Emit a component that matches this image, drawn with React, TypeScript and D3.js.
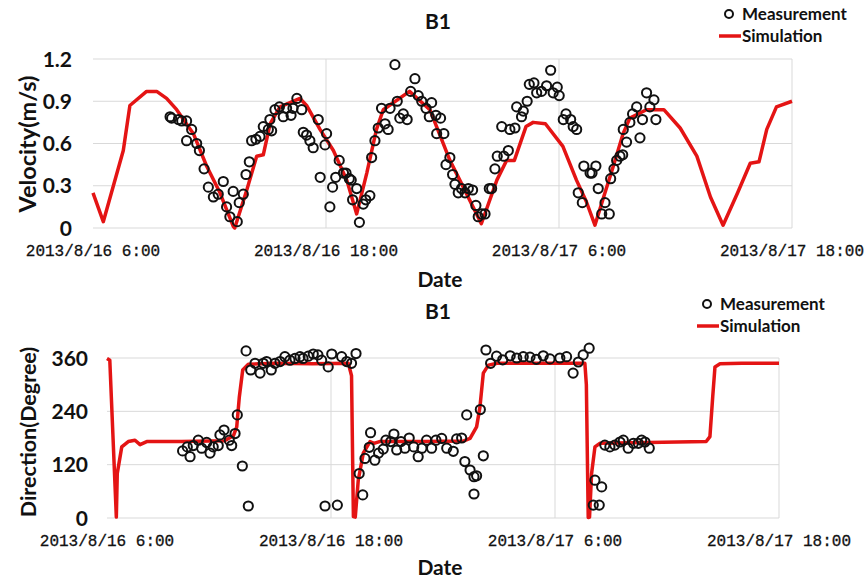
import React from 'react';
import * as d3 from 'd3';

// hours counted from 2013/8/16 6:00
const dateTickHours = [0, 12, 24, 36];
const dateTickLabels = ['2013/8/16 6:00', '2013/8/16 18:00', '2013/8/17 6:00', '2013/8/17 18:00'];

const velTicks = [0, 0.3, 0.6, 0.9, 1.2];
const velTickLabels = ['0', '0.3', '0.6', '0.9', '1.2'];
const dirTicks = [0, 120, 240, 360];
const dirTickLabels = ['0', '120', '240', '360'];

const velSimulation: [number, number][] = [
  [0, 0.25], [0.53, 0.045], [1.56, 0.55], [1.9, 0.87], [2.76, 0.97], [3.28, 0.97], [3.79, 0.92],
  [4.31, 0.84], [5.17, 0.67], [5.85, 0.44], [6.54, 0.25], [7.23, 0.01], [7.3, 0.0], [7.92, 0.27],
  [8.43, 0.51], [8.77, 0.52], [9.12, 0.74], [9.63, 0.86], [10.66, 0.92], [11.0, 0.87], [11.69, 0.7],
  [12.38, 0.55], [13.07, 0.34], [13.58, 0.1], [14.1, 0.39], [14.6, 0.7], [14.95, 0.84], [16.3, 0.97],
  [17.35, 0.84], [18.38, 0.48], [19.07, 0.29], [20.0, 0.03], [20.8, 0.34], [21.3, 0.48], [21.7, 0.48],
  [22.3, 0.72], [22.67, 0.75], [23.3, 0.74], [24.2, 0.58], [24.9, 0.34], [25.4, 0.19], [25.85, 0.02],
  [26.3, 0.22], [26.8, 0.44], [27.3, 0.67], [27.65, 0.78], [28.5, 0.84], [29.4, 0.84], [30.24, 0.71],
  [31.1, 0.51], [31.8, 0.22], [32.45, 0.02], [33.2, 0.25], [33.85, 0.46], [34.3, 0.47], [34.7, 0.7],
  [35.2, 0.86], [36, 0.9],
];

const velMeasurement: [number, number][] = [
  [3.97, 0.79], [4.05, 0.78], [4.4, 0.77], [4.57, 0.76], [4.82, 0.76], [5.08, 0.7], [4.82, 0.62],
  [5.34, 0.6], [5.48, 0.55], [5.72, 0.42], [5.94, 0.29], [6.2, 0.22], [6.45, 0.24], [6.71, 0.33],
  [6.88, 0.15], [7.05, 0.08], [7.22, 0.26], [7.43, 0.045], [7.53, 0.18], [7.74, 0.24], [7.88, 0.38],
  [8.05, 0.47], [8.17, 0.62], [8.39, 0.63], [8.6, 0.65], [8.77, 0.72], [9.03, 0.7], [9.2, 0.69],
  [9.11, 0.77], [9.37, 0.84], [9.6, 0.86], [9.8, 0.79], [9.97, 0.85], [10.2, 0.8], [10.3, 0.85],
  [10.5, 0.92], [10.75, 0.84], [10.83, 0.68], [11.0, 0.66], [11.17, 0.62], [11.34, 0.57], [11.6, 0.77],
  [11.7, 0.36], [12.03, 0.67], [11.95, 0.59], [12.2, 0.15], [12.34, 0.29], [12.5, 0.36], [12.68, 0.48],
  [12.9, 0.39], [13.03, 0.39], [13.2, 0.35], [13.3, 0.34], [13.37, 0.2], [13.58, 0.28], [13.72, 0.04],
  [13.92, 0.17], [14.05, 0.2], [14.26, 0.23], [14.35, 0.5], [14.52, 0.62], [14.69, 0.71], [14.86, 0.85],
  [15.04, 0.74], [15.2, 0.7], [15.3, 0.85], [15.55, 1.16], [15.67, 0.9], [15.8, 0.78], [15.98, 0.81],
  [16.18, 0.77], [16.36, 0.97], [16.58, 1.06], [16.75, 0.94], [16.93, 0.9], [17.15, 0.85], [17.44, 0.89],
  [17.32, 0.79], [17.66, 0.8], [17.9, 0.78], [17.7, 0.67], [18.07, 0.67], [18.38, 0.5], [18.18, 0.45],
  [18.52, 0.38], [18.64, 0.31], [18.81, 0.25], [18.98, 0.28], [19.16, 0.25], [19.33, 0.28], [19.55, 0.27],
  [19.72, 0.16], [19.84, 0.08], [20.02, 0.1], [20.19, 0.1], [20.41, 0.28], [20.53, 0.28], [20.7, 0.42],
  [20.82, 0.51], [21.05, 0.72], [21.16, 0.51], [21.39, 0.55], [21.47, 0.7], [21.73, 0.71], [21.82, 0.86],
  [22.07, 0.79], [22.16, 0.83], [22.36, 0.9], [22.47, 1.02], [22.71, 1.03], [22.85, 0.96], [23.1, 0.97],
  [23.36, 1.01], [23.57, 1.12], [23.7, 0.96], [23.91, 1.0], [24.01, 0.94], [24.22, 0.77], [24.36, 0.81],
  [24.6, 0.77], [24.73, 0.72], [24.91, 0.7], [24.99, 0.25], [25.2, 0.18], [25.28, 0.44], [25.6, 0.39],
  [25.7, 0.39], [25.9, 0.44], [26.02, 0.28], [26.2, 0.1], [26.37, 0.18], [26.59, 0.1], [26.66, 0.35],
  [26.83, 0.42], [26.97, 0.48], [27.14, 0.51], [27.28, 0.52], [27.31, 0.7], [27.48, 0.61], [27.65, 0.75],
  [27.79, 0.81], [28.0, 0.86], [28.17, 0.64], [28.3, 0.77], [28.51, 0.96], [28.68, 0.86], [28.89, 0.91],
  [28.99, 0.77],
];

const dirSimulation: [number, number][] = [
  [0, 359], [0.15, 355], [0.5, 2], [0.55, 100], [0.79, 160], [1.14, 172], [1.5, 175], [1.77, 165],
  [2.13, 172], [4.0, 172], [6.3, 174], [6.77, 185], [6.95, 205], [7.09, 273], [7.27, 333], [7.57, 346],
  [9.0, 348], [11.0, 347], [12.93, 348], [13.1, 320], [13.2, 3], [13.3, 2], [13.46, 85], [13.73, 146],
  [14.09, 172], [14.3, 168], [14.6, 172], [17.0, 172], [19.09, 173], [19.45, 179], [19.8, 205],
  [19.98, 250], [20.16, 326], [20.43, 344], [20.9, 348], [23.0, 348], [25.6, 348], [25.68, 300],
  [25.78, 1], [25.85, 2], [25.96, 100], [26.14, 160], [26.4, 168], [29.0, 170], [32.1, 172],
  [32.3, 183], [32.45, 273], [32.57, 340], [32.84, 347], [34.0, 348], [36, 348],
];

const dirMeasurement: [number, number][] = [
  [4.05, 151], [4.3, 160], [4.45, 138], [4.62, 163], [4.89, 175], [5.07, 157], [5.34, 170], [5.52, 146],
  [5.69, 160], [5.96, 163], [6.05, 187], [6.27, 198], [6.55, 175], [6.68, 163], [6.86, 190], [6.98, 232],
  [7.25, 117], [7.45, 376], [7.57, 27], [7.7, 333], [7.93, 348], [8.2, 326], [8.37, 348], [8.55, 352],
  [8.8, 333], [9.0, 348], [9.27, 352], [9.53, 363], [9.8, 355], [10.07, 359], [10.34, 363], [10.5, 359],
  [10.78, 364], [11.05, 369], [11.3, 367], [11.5, 355], [11.68, 27], [11.85, 340], [12.04, 369],
  [12.34, 29], [12.57, 363], [12.84, 352], [13.1, 348], [13.34, 370], [13.51, 100], [13.7, 52],
  [13.82, 134], [14.05, 159], [14.12, 192], [14.35, 130], [14.55, 146], [14.8, 155], [14.94, 175],
  [15.2, 172], [15.37, 189], [15.52, 153], [15.75, 172], [15.96, 157], [16.19, 180], [16.43, 160],
  [16.67, 138], [16.87, 157], [17.12, 175], [17.39, 157], [17.62, 175], [17.93, 179], [18.2, 157],
  [18.55, 150], [18.73, 178], [19.0, 180], [19.17, 127], [19.27, 232], [19.45, 108], [19.66, 93],
  [19.66, 54], [19.8, 95], [20.0, 244], [20.16, 140], [20.3, 378], [20.55, 348], [20.87, 364],
  [21.2, 356], [21.6, 365], [21.95, 360], [22.3, 363], [22.66, 362], [23.0, 357], [23.37, 365],
  [23.73, 358], [24.26, 360], [24.62, 363], [24.97, 326], [25.25, 351], [25.51, 367], [25.83, 382],
  [26.05, 29], [26.37, 29], [26.14, 85], [26.5, 70], [26.67, 164], [26.94, 160], [27.2, 164],
  [27.48, 171], [27.66, 175], [27.92, 157], [28.2, 168], [28.46, 168], [28.64, 175], [28.82, 171],
  [29.05, 157],
];

const RED = '#e41414';
const GRID = '#d9d9d9';
const SANS = "Lato, 'Open Sans', sans-serif";
const MONO = "'Liberation Mono', 'DejaVu Sans Mono', monospace";

type PanelProps = {
  x0: number; x1: number; y0: number; y1: number;
  yMax: number; ticks: number[]; tickLabels: string[];
  sim: [number, number][]; meas: [number, number][];
  yTitle: string; yTitleY: number; yTitleSize: number; tickRight: number;
  dateY: number; titleY: number; xTitleY: number;
  legendX: number; legendY: number;
};

function Panel(p: PanelProps) {
  const x = d3.scaleLinear().domain([0, 36]).range([p.x0, p.x1]);
  const y = d3.scaleLinear().domain([0, p.yMax]).range([p.y0, p.y1]);
  const line = d3.line<[number, number]>().x(d => x(d[0])).y(d => y(d[1]));
  return (
    <g>
      {p.ticks.map((t, i) => (
        <g key={'h' + i}>
          <line x1={p.x0} x2={p.x1} y1={y(t)} y2={y(t)} stroke={GRID} strokeWidth={1} />
          <text x={p.tickRight} y={y(t)} dy="0.36em" textAnchor="end" fontFamily={SANS}
            fontWeight={700} fontSize={21} fill="#111">{p.tickLabels[i]}</text>
        </g>
      ))}
      {dateTickHours.map((h, i) => (
        <g key={'v' + i}>
          {i > 0 && <line x1={x(h)} x2={x(h)} y1={p.y0} y2={y(p.ticks[p.ticks.length - 1])}
            stroke={GRID} strokeWidth={1} />}
          <text x={x(h)} y={p.dateY} textAnchor="middle" fontFamily={MONO} fontSize={16}
            fill="#111" stroke="#111" strokeWidth={0.3}>{dateTickLabels[i]}</text>
        </g>
      ))}
      <path d={line(p.sim) ?? ''} fill="none" stroke={RED} strokeWidth={3.5} strokeLinejoin="round" />
      {p.meas.map((d, i) => (
        <circle key={'m' + i} cx={x(d[0])} cy={y(d[1])} r={4.6} fill="none" stroke="#111" strokeWidth={2} />
      ))}
      <text x={438} y={p.titleY} textAnchor="middle" fontFamily={SANS} fontWeight={700}
        fontSize={21} fill="#111">B1</text>
      <text x={440} y={p.xTitleY} textAnchor="middle" fontFamily={SANS} fontWeight={700}
        fontSize={21} fill="#111">Date</text>
      <text transform={`translate(36,${p.yTitleY}) rotate(-90)`} textAnchor="middle"
        fontFamily={SANS} fontWeight={700} fontSize={p.yTitleSize} fill="#111">{p.yTitle}</text>
      <circle cx={p.legendX + 10} cy={p.legendY} r={4} fill="none" stroke="#111" strokeWidth={2} />
      <text x={p.legendX + 23} y={p.legendY} dy="0.36em" fontFamily={SANS} fontWeight={700}
        fontSize={17} fill="#111">Measurement</text>
      <line x1={p.legendX} x2={p.legendX + 22} y1={p.legendY + 22} y2={p.legendY + 22}
        stroke={RED} strokeWidth={3.5} />
      <text x={p.legendX + 23} y={p.legendY + 22} dy="0.36em" fontFamily={SANS} fontWeight={700}
        fontSize={17} fill="#111">Simulation</text>
    </g>
  );
}

export default function App() {
  return (
    <svg width={868} height={582} style={{ position: 'absolute', left: 0, top: 0, background: '#fff' }}>
      <Panel x0={93} x1={792} y0={228} y1={59} yMax={1.2} ticks={velTicks} tickLabels={velTickLabels}
        sim={velSimulation} meas={velMeasurement} yTitle="Velocity(m/s)" yTitleY={144} yTitleSize={23.5}
        tickRight={72} dateY={256} titleY={29} xTitleY={287} legendX={719} legendY={14} />
      <Panel x0={107} x1={779} y0={518} y1={358} yMax={360} ticks={dirTicks} tickLabels={dirTickLabels}
        sim={dirSimulation} meas={dirMeasurement} yTitle="Direction(Degree)" yTitleY={432} yTitleSize={21.5}
        tickRight={88} dateY={546} titleY={319} xTitleY={575} legendX={697} legendY={304} />
    </svg>
  );
}
